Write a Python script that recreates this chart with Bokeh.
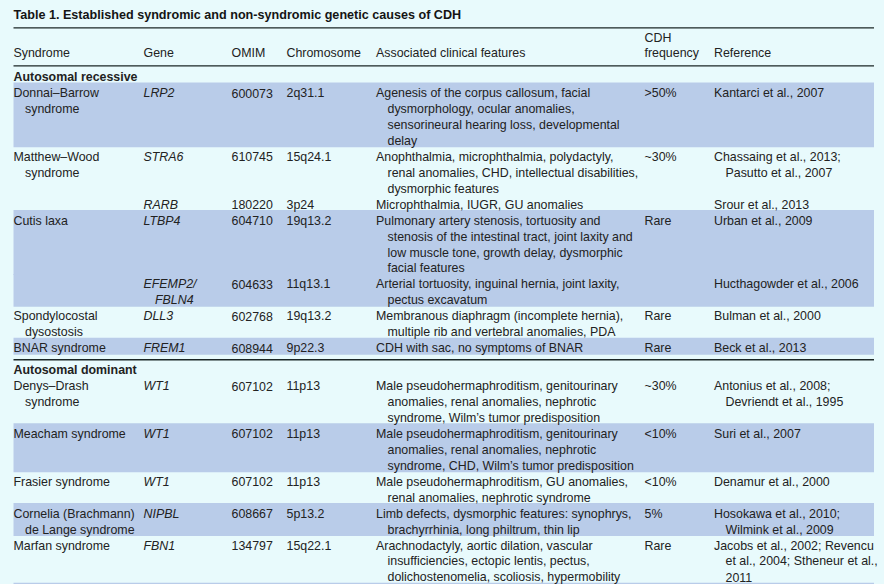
from bokeh.plotting import figure
from bokeh.models import Range1d, ColumnDataSource
from bokeh.core.properties import value
from bokeh.embed import file_html
from bokeh.resources import INLINE

# ---------------- data ----------------
title = "Table 1. Established syndromic and non-syndromic genetic causes of CDH"
headers = ["Syndrome", "Gene", "OMIM", "Chromosome", "Associated clinical features",
           "CDH\nfrequency", "Reference"]
section_titles = ["Autosomal recessive", "Autosomal dominant"]

section = [0, 0, 0, 0, 0, 0, 0, 1, 1, 1, 1, 1]
shaded = [True, False, False, True, True, False, True, False, True, False, True, False]

syndrome = [
    ["Donnai–Barrow", "syndrome"],
    ["Matthew–Wood", "syndrome"],
    [],
    ["Cutis laxa"],
    [],
    ["Spondylocostal", "dysostosis"],
    ["BNAR syndrome"],
    ["Denys–Drash", "syndrome"],
    ["Meacham syndrome"],
    ["Frasier syndrome"],
    ["Cornelia (Brachmann)", "de Lange syndrome"],
    ["Marfan syndrome"],
]
gene = [
    ["LRP2"], ["STRA6"], ["RARB"], ["LTBP4"], ["EFEMP2/", "FBLN4"], ["DLL3"], ["FREM1"],
    ["WT1"], ["WT1"], ["WT1"], ["NIPBL"], ["FBN1"],
]
omim = ["600073", "610745", "180220", "604710", "604633", "602768", "608944",
        "607102", "607102", "607102", "608667", "134797"]
chromosome = ["2q31.1", "15q24.1", "3p24", "19q13.2", "11q13.1", "19q13.2", "9p22.3",
              "11p13", "11p13", "11p13", "5p13.2", "15q22.1"]
features = [
    ["Agenesis of the corpus callosum, facial", "dysmorphology, ocular anomalies,",
     "sensorineural hearing loss, developmental", "delay"],
    ["Anophthalmia, microphthalmia, polydactyly,", "renal anomalies, CHD, intellectual disabilities,",
     "dysmorphic features"],
    ["Microphthalmia, IUGR, GU anomalies"],
    ["Pulmonary artery stenosis, tortuosity and", "stenosis of the intestinal tract, joint laxity and",
     "low muscle tone, growth delay, dysmorphic", "facial features"],
    ["Arterial tortuosity, inguinal hernia, joint laxity,", "pectus excavatum"],
    ["Membranous diaphragm (incomplete hernia),", "multiple rib and vertebral anomalies, PDA"],
    ["CDH with sac, no symptoms of BNAR"],
    ["Male pseudohermaphroditism, genitourinary", "anomalies, renal anomalies, nephrotic",
     "syndrome, Wilm’s tumor predisposition"],
    ["Male pseudohermaphroditism, genitourinary", "anomalies, renal anomalies, nephrotic",
     "syndrome, CHD, Wilm’s tumor predisposition"],
    ["Male pseudohermaphroditism, GU anomalies,", "renal anomalies, nephrotic syndrome"],
    ["Limb defects, dysmorphic features: synophrys,", "brachyrrhinia, long philtrum, thin lip"],
    ["Arachnodactyly, aortic dilation, vascular", "insufficiencies, ectopic lentis, pectus,",
     "dolichostenomelia, scoliosis, hypermobility"],
]
frequency = [">50%", "~30%", "", "Rare", "", "Rare", "Rare",
             "~30%", "<10%", "<10%", "5%", "Rare"]
reference = [
    ["Kantarci et al., 2007"],
    ["Chassaing et al., 2013;", "Pasutto et al., 2007"],
    ["Srour et al., 2013"],
    ["Urban et al., 2009"],
    ["Hucthagowder et al., 2006"],
    ["Bulman et al., 2000"],
    ["Beck et al., 2013"],
    ["Antonius et al., 2008;", "Devriendt et al., 1995"],
    ["Suri et al., 2007"],
    ["Denamur et al., 2000"],
    ["Hosokawa et al., 2010;", "Wilmink et al., 2009"],
    ["Jacobs et al., 2002; Revencu", "et al., 2004; Stheneur et al.,", "2011"],
]

# ---------------- layout / style ----------------
BG = "#e8fafc"
BAND = "#b9cce9"
INK = "#222222"
FONT = value("Liberation Sans")
FS = "12.4px"
LH = 15.95
INDENT = 11.5
col_x = [13, 143, 231, 286, 375.5, 644, 713.5]
X0, X1 = 13, 873.5
section_y = [76.5, 369.5]
section_first_row_y = [92.5, 385.5]

p = figure(width=884, height=584, x_range=Range1d(0, 884), y_range=Range1d(584, 0),
           x_axis_type=None, y_axis_type=None, toolbar_location=None,
           output_backend="svg", min_border=0, background_fill_color=BG,
           border_fill_color=BG, outline_line_color=None)
p.grid.visible = False

# compute per-row line positions
row_y = []
cursor = {0: section_first_row_y[0], 1: section_first_row_y[1]}
for i in range(len(omim)):
    n = max(len(syndrome[i]), len(gene[i]), len(features[i]), len(reference[i]), 1)
    s = section[i]
    row_y.append([cursor[s] + k * LH for k in range(n)])
    cursor[s] += n * LH

# shaded bands
bx, by, bw, bh = [], [], [], []
for i in range(len(omim)):
    if shaded[i]:
        top = row_y[i][0] - 10.5
        bot = row_y[i][-1] + 6.5
        bx.append((X0 + X1) / 2)
        by.append((top + bot) / 2)
        bw.append(X1 - X0)
        bh.append(bot - top)
p.rect(x=bx, y=by, width=bw, height=bh, fill_color=BAND, line_color=None)

# rules
p.segment(x0=[X0, X0], y0=[27.3, 65.3], x1=[X1, X1], y1=[27.3, 65.3], line_color="#1b2626", line_width=1.3)
p.segment(x0=[X0], y0=[359.3], x1=[X1], y1=[359.3], line_color="#1b2626", line_width=1.6)
p.segment(x0=[X0], y0=[582.8], x1=[X1], y1=[582.8], line_color="#b9cce9", line_width=1.2)

# text collections
plain = dict(x=[], y=[], text=[])
italic = dict(x=[], y=[], text=[])
bold = dict(x=[], y=[], text=[])


def add(store, x, y, t):
    store["x"].append(x)
    store["y"].append(y)
    store["text"].append(t)


# header
for j, h in enumerate(headers):
    lines = h.split("\n")
    for k, t in enumerate(reversed(lines)):
        add(plain, col_x[j], 52.5 - k * 15, t)

for s, t in enumerate(section_titles):
    add(bold, col_x[0], section_y[s], t)

for i in range(len(omim)):
    ys = row_y[i]
    for k, t in enumerate(syndrome[i]):
        add(plain, col_x[0] + (INDENT if k else 0), ys[k], t)
    for k, t in enumerate(gene[i]):
        add(italic, col_x[1] + (INDENT if k else 0), ys[k], t)
    add(plain, col_x[2], ys[0], omim[i])
    add(plain, col_x[3], ys[0], chromosome[i])
    for k, t in enumerate(features[i]):
        add(plain, col_x[4] + (INDENT if k else 0), ys[k], t)
    if frequency[i]:
        add(plain, col_x[5], ys[0], frequency[i])
    for k, t in enumerate(reference[i]):
        add(plain, col_x[6] + (INDENT if k else 0), ys[k], t)

common = dict(text_font=FONT, text_font_size=FS, text_baseline="middle",
              text_align="left", text_color=INK)
p.text(x="x", y="y", text="text", source=ColumnDataSource(plain), **common)
p.text(x="x", y="y", text="text", source=ColumnDataSource(italic), text_font_style="italic", **common)
p.text(x="x", y="y", text="text", source=ColumnDataSource(bold), text_font_style="bold", **common)

p.text(x=[13], y=[14], text=[title], text_font=FONT, text_font_size="12.6px",
       text_font_style="bold", text_baseline="middle", text_color="#141414")

html = file_html(p, INLINE)
html = html.replace("<head>", "<head><style>body{background:%s;}</style>" % BG, 1)
open("out.html", "w").write(html)
